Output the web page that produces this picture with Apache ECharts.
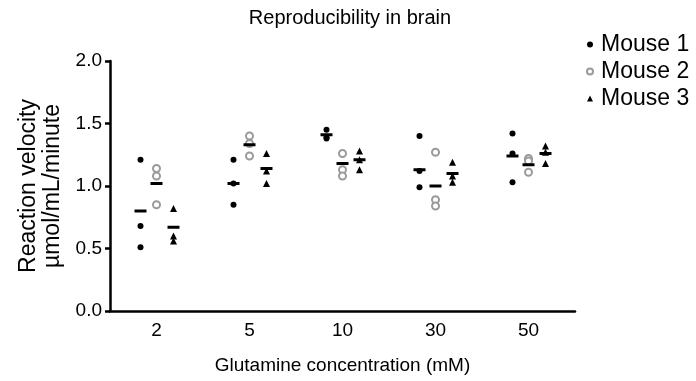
<!DOCTYPE html>
<html>
<head>
<meta charset="utf-8">
<script src="https://cdn.jsdelivr.net/npm/echarts@6/dist/echarts.min.js"></script>
<style>
  html, body { margin: 0; padding: 0; background: #fff; }
  #chart { width: 696px; height: 381px; }
</style>
</head>
<body>
<div id="chart"></div>
<script>
const categories = ['2', '5', '10', '30', '50'];
const seriesNames = ['Mouse 1', 'Mouse 2', 'Mouse 3'];

// replicate values per concentration
const mouse1 = [[1.21, 0.68, 0.51], [1.21, 1.02, 0.85], [1.45, 1.39, 1.38], [1.40, 1.12, 0.99], [1.42, 1.26, 1.03]];
const mouse2 = [[1.14, 1.08, 0.85], [1.40, 1.34, 1.24], [1.26, 1.13, 1.08], [1.27, 0.89, 0.84], [1.22, 1.20, 1.11]];
const mouse3 = [[0.82, 0.60, 0.56], [1.26, 1.12, 1.02], [1.28, 1.21, 1.13], [1.19, 1.08, 1.03], [1.32, 1.27, 1.18]];

// mean bars as drawn
const mean1 = [0.80, 1.02, 1.41, 1.13, 1.24];
const mean2 = [1.02, 1.33, 1.18, 1.00, 1.17];
const mean3 = [0.67, 1.14, 1.21, 1.10, 1.26];

const yTicks = [0, 0.5, 1.0, 1.5, 2.0];

const FONT = 'Liberation Sans';
const INK = '#000';
const GREY = '#9a9a9a';
const offsets = [-16, 0, 17];

const points = [mouse1, mouse2, mouse3];
const means = [mean1, mean2, mean3];

const pointStyle = [
  { symbol: 'circle', symbolSize: 6, itemStyle: { color: INK, opacity: 1 } },
  { symbol: 'emptyCircle', symbolSize: 7, itemStyle: { color: GREY, borderWidth: 2, opacity: 1 } },
  { symbol: 'triangle', symbolSize: 7, itemStyle: { color: INK, opacity: 1 } }
];

const series = [];
points.forEach((rows, s) => {
  const data = [];
  rows.forEach((vals, i) => vals.forEach(v => data.push([i, v])));
  series.push(Object.assign({
    name: seriesNames[s],
    type: 'scatter',
    data: data,
    symbolOffset: [offsets[s], 0],
    z: 3,
    emphasis: { disabled: true }
  }, pointStyle[s]));
});
means.forEach((m, s) => {
  series.push({
    name: seriesNames[s] + ' mean',
    type: 'scatter',
    data: m.map((v, i) => [i, v]),
    symbol: 'rect',
    symbolSize: [12, 3],
    symbolOffset: [offsets[s], 0],
    itemStyle: { color: INK, opacity: 1 },
    z: 4,
    emphasis: { disabled: true }
  });
});

const chart = echarts.init(document.getElementById('chart'));
chart.setOption({
  animation: false,
  textStyle: { fontFamily: FONT },
  title: {
    text: 'Reproducibility in brain',
    left: 345,
    textAlign: 'center',
    top: 3,
    textStyle: { fontFamily: FONT, fontSize: 20, fontWeight: 'normal', color: INK }
  },
  legend: {
    data: [
      { name: 'Mouse 1', icon: 'circle' },
      { name: 'Mouse 2', icon: 'emptyCircle' },
      { name: 'Mouse 3', icon: 'triangle' }
    ],
    orient: 'vertical',
    left: 581,
    top: 28,
    itemWidth: 6,
    itemHeight: 6,
    itemGap: 4,
    textStyle: { fontFamily: FONT, fontSize: 23, color: INK, padding: [0, 0, 0, 3] }
  },
  grid: { left: 110, right: 121, top: 61, bottom: 70 },
  xAxis: {
    type: 'category',
    data: categories,
    name: 'Glutamine concentration (mM)',
    nameLocation: 'middle',
    nameGap: 45,
    nameTextStyle: { fontFamily: FONT, fontSize: 19, color: INK },
    axisLine: { lineStyle: { color: INK, width: 2.5 } },
    axisTick: { alignWithLabel: true, length: 6, lineStyle: { color: INK, width: 2.5 } },
    axisLabel: { fontFamily: FONT, fontSize: 19, color: INK, margin: 10 },
    splitLine: { show: false }
  },
  yAxis: {
    type: 'value',
    min: yTicks[0],
    max: yTicks[yTicks.length - 1],
    interval: 0.5,
    name: 'Reaction velocity\nµmol/mL/minute',
    nameLocation: 'middle',
    nameRotate: 90,
    nameGap: 43,
    nameTextStyle: { fontFamily: FONT, fontSize: 23, color: INK, lineHeight: 24 },
    axisLine: { show: true, lineStyle: { color: INK, width: 2.5 } },
    axisTick: { show: true, length: 5, lineStyle: { color: INK, width: 2.5 } },
    axisLabel: { fontFamily: FONT, fontSize: 19, color: INK, margin: 8, formatter: v => v.toFixed(1) },
    splitLine: { show: false }
  },
  series: series
});
</script>
</body>
</html>
